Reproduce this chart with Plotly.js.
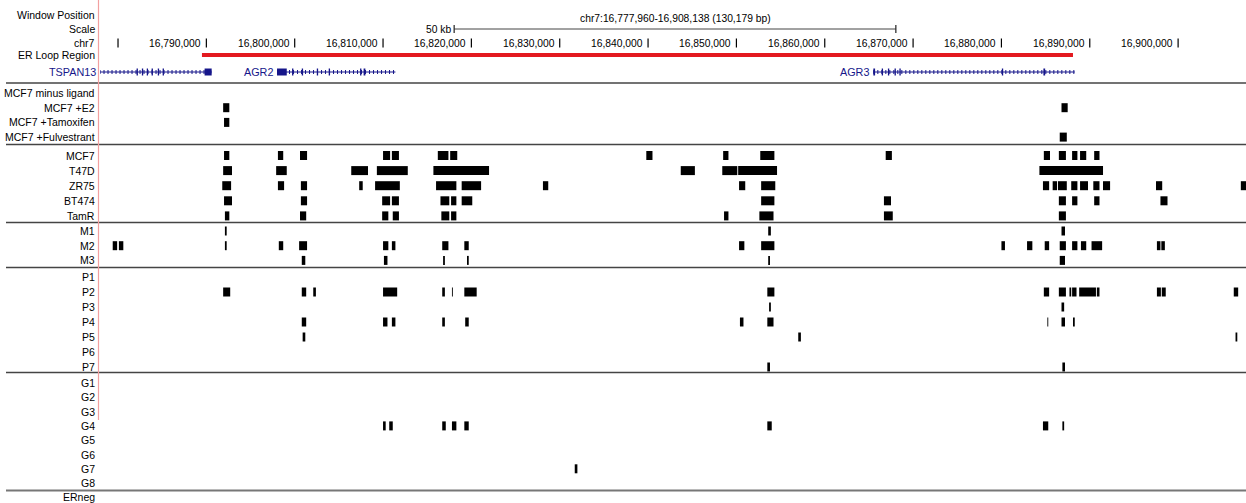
<!DOCTYPE html>
<html><head><meta charset="utf-8">
<script src="https://cdn.plot.ly/plotly-3.0.1.min.js"></script>
<style>html,body{margin:0;padding:0;background:#fff}#chart{width:1246px;height:503px}</style>
</head><body><div id="chart"></div>
<script>
// ---------------- DATA ----------------
const windowStart = 16777960, windowEnd = 16908138;
const windowText = "chr7:16,777,960-16,908,138 (130,179 bp)";
const scaleText = "50 kb";
const scaleLength = 50000;
const tickValues = [16780000,16790000,16800000,16810000,16820000,16830000,16840000,16850000,16860000,16870000,16880000,16890000,16900000];
const tickLabels = ["","16,790,000","16,800,000","16,810,000","16,820,000","16,830,000","16,840,000","16,850,000","16,860,000","16,870,000","16,880,000","16,890,000","16,900,000"];
const loopRegion = [16789500, 16888100];

const geneNames  = ["TSPAN13","AGR2","AGR3"];
const geneStarts = [16777000, 16798000, 16865500];
const geneEnds   = [16790600, 16811400, 16888300];
const exonsTSPAN13 = [[16782100,16782250],[16782700,16782850],[16783250,16783400],[16783800,16783950],[16784500,16784650],[16785050,16785200],[16789800,16790600]];
const exonsAGR2 = [[16798000,16799100],[16799700,16799850],[16800800,16800950],[16802500,16802650],[16803850,16804000],[16807400,16807550],[16807800,16808000]];
const exonsAGR3 = [[16865500,16865700],[16866450,16866600],[16867150,16867300],[16867900,16868050],[16868450,16868600],[16880050,16880200],[16884750,16884950]];

const headerLabels = ["Window Position","Scale","chr7","ER Loop Region"];
const groupLigand = ["MCF7 minus ligand","MCF7 +E2","MCF7 +Tamoxifen","MCF7 +Fulvestrant"];
const groupCells  = ["MCF7","T47D","ZR75","BT474","TamR"];
const groupM = ["M1","M2","M3"];
const groupP = ["P1","P2","P3","P4","P5","P6","P7"];
const groupG = ["G1","G2","G3","G4","G5","G6","G7","G8"];
const groupNeg = ["ERneg"];

const pkMinusLigand = [];
const pkE2 = [[16791900,16792600],[16886800,16887500]];
const pkTamoxifen = [[16792000,16792600]];
const pkFulvestrant = [[16886600,16887400]];
const pkMCF7 = [[16792000,16792600],[16798100,16798700],[16800600,16801400],[16810000,16810800],[16811000,16811800],[16816200,16817400],[16817600,16818400],[16839800,16840500],[16848500,16849100],[16852700,16854300],[16866900,16867600],[16884800,16885500],[16886500,16887300],[16888000,16888600],[16888900,16889600],[16890500,16891100]];
const pkT47D = [[16791900,16792900],[16797900,16799100],[16806400,16808300],[16809300,16812800],[16815700,16822000],[16843700,16845300],[16848400,16850100],[16850200,16854600],[16884300,16891500]];
const pkZR75 = [[16791800,16792800],[16798100,16798800],[16800700,16801400],[16807300,16807700],[16809100,16811900],[16816000,16818300],[16818900,16821100],[16828100,16828700],[16850300,16851000],[16852800,16854400],[16884700,16885400],[16885800,16886300],[16886400,16887400],[16887900,16888600],[16888900,16889800],[16890400,16891100],[16891500,16892300],[16897500,16898200],[16907100,16908000]];
const pkBT474 = [[16792000,16792900],[16800700,16801400],[16809900,16810800],[16811000,16811800],[16816500,16817500],[16817700,16818300],[16818900,16820100],[16852800,16854300],[16866700,16867500],[16886500,16887300],[16888000,16888600],[16890500,16891100],[16898000,16898800]];
const pkTamR = [[16792100,16792600],[16800600,16801300],[16809900,16810600],[16811100,16811800],[16816600,16817500],[16817700,16818300],[16848600,16849100],[16852600,16854200],[16866700,16867700],[16886500,16887300]];
const pkM1 = [[16792100,16792300],[16853600,16853900],[16886800,16887200]];
const pkM2 = [[16779400,16779900],[16780100,16780600],[16792100,16792300],[16798200,16798700],[16800500,16801400],[16810000,16810600],[16811000,16811400],[16816700,16817400],[16819200,16819700],[16850300,16850900],[16852800,16854300],[16880000,16880400],[16882900,16883500],[16884900,16885400],[16886600,16887300],[16888000,16888600],[16889000,16889600],[16890200,16891400],[16897600,16898000],[16898100,16898500]];
const pkM3 = [[16800800,16801200],[16810100,16810500],[16816800,16817000],[16819500,16819700],[16853600,16853800],[16886600,16887200]];
const pkP1 = [];
const pkP2 = [[16791900,16792700],[16800800,16801300],[16802100,16802400],[16810000,16811600],[16816700,16817000],[16817800,16817900],[16819200,16820600],[16853500,16854300],[16884800,16885400],[16886500,16887300],[16887700,16887900],[16888000,16888500],[16888800,16890700],[16890800,16891100],[16897600,16898050],[16898150,16898600],[16906300,16906800]];
const pkP3 = [[16853700,16853900],[16886800,16887100]];
const pkP4 = [[16800800,16801300],[16810000,16810500],[16811000,16811400],[16816700,16817000],[16819300,16819700],[16850400,16850800],[16853500,16854200],[16885200,16885300],[16886800,16887200],[16888100,16888300]];
const pkP5 = [[16800900,16801200],[16857000,16857300],[16906500,16906700]];
const pkP6 = [];
const pkP7 = [[16853500,16853800],[16886900,16887200]];
const pkG1 = [], pkG2 = [], pkG3 = [];
const pkG4 = [[16810000,16810300],[16810700,16811100],[16816700,16817100],[16817800,16818300],[16819200,16819700],[16853500,16854000],[16884700,16885300],[16886900,16887100]];
const pkG5 = [], pkG6 = [];
const pkG7 = [[16831700,16832000]];
const pkG8 = [];
const pkERneg = [];

// ---------------- LAYOUT / STYLE ----------------
const W = 1246, H = 503, LEFT = 100, DATA_RIGHT_PX = 1150; // window spans 1150 px, image crops at 1246
const xEnd = windowStart + (windowEnd - windowStart) * (W - LEFT) / DATA_RIGHT_PX;
const paperX = px => (px - LEFT) / (W - LEFT);
const FONT = "Liberation Sans, Arial, sans-serif";
const NAVY = "#16168a";

const peakMap = {
  "MCF7 minus ligand":pkMinusLigand,"MCF7 +E2":pkE2,"MCF7 +Tamoxifen":pkTamoxifen,"MCF7 +Fulvestrant":pkFulvestrant,
  "MCF7":pkMCF7,"T47D":pkT47D,"ZR75":pkZR75,"BT474":pkBT474,"TamR":pkTamR,
  "M1":pkM1,"M2":pkM2,"M3":pkM3,
  "P1":pkP1,"P2":pkP2,"P3":pkP3,"P4":pkP4,"P5":pkP5,"P6":pkP6,"P7":pkP7,
  "G1":pkG1,"G2":pkG2,"G3":pkG3,"G4":pkG4,"G5":pkG5,"G6":pkG6,"G7":pkG7,"G8":pkG8,"ERneg":pkERneg
};
const groups = [
  {rows:groupLigand, y0:93,   pitch:14.7},
  {rows:groupCells,  y0:155.5,pitch:15.1},
  {rows:groupM,      y0:231,  pitch:14.7},
  {rows:groupP,      y0:277,  pitch:15.0},
  {rows:groupG,      y0:383,  pitch:14.3},
  {rows:groupNeg,    y0:496.5,pitch:14.3}
];
const separatorsY = [83, 144.5, 222.5, 267.5, 372.5, 490.5];
const headerY = [15, 29, 43, 55];
const geneY = 72;
const blockH = 9;

const annotations = [];
const shapes = [];
const label = (text, y, opts={}) => annotations.push(Object.assign({
  text, xref:'paper', yref:'y', x:0, y, xanchor:'right', yanchor:'middle', xshift:-3,
  showarrow:false, font:{family:FONT, size:10.5, color:'#000'}
}, opts));

headerLabels.forEach((t,i)=>label(t, headerY[i]));

// peaks
const bx=[], bbase=[], by=[];
groups.forEach(g=>{
  g.rows.forEach((name,i)=>{
    const y = g.y0 + i*g.pitch;
    label(name, y);
    peakMap[name].forEach(p=>{ bbase.push(p[0]); bx.push(p[1]-p[0]); by.push(y); });
  });
});

// separators
separatorsY.forEach((y,i)=>shapes.push({type:'line', xref:'paper', yref:'y', x0:paperX(6), x1:1, y0:y, y1:y,
  line:{color: i===separatorsY.length-1 ? '#777' : '#444', width: i===separatorsY.length-1 ? 2 : 1.3}}));
// red boundary line
shapes.push({type:'line', xref:'paper', yref:'y', x0:paperX(98.5), x1:paperX(98.5), y0:0, y1:420, line:{color:'#f2a0a0', width:1.2}});

// chromosome ticks
tickValues.forEach((v,i)=>{
  shapes.push({type:'line', xref:'x', yref:'y', x0:v, x1:v, y0:38.5, y1:47.5, line:{color:'#000', width:1.2}});
  if (tickLabels[i]) annotations.push({text:tickLabels[i], xref:'x', yref:'y', x:v, y:43, xanchor:'right', yanchor:'middle', xshift:-3,
    showarrow:false, font:{family:FONT, size:10.3, color:'#000'}});
});

// window text and scale bar
const center = (windowStart + windowEnd) / 2;
annotations.push({text:windowText, xref:'x', yref:'y', x:center, y:18, xanchor:'center', yanchor:'middle', showarrow:false, font:{family:FONT, size:10.3, color:'#000'}});
const sb0 = center - scaleLength/2, sb1 = center + scaleLength/2;
shapes.push({type:'line', xref:'x', yref:'y', x0:sb0, x1:sb1, y0:29, y1:29, line:{color:'#444', width:1}});
shapes.push({type:'line', xref:'x', yref:'y', x0:sb0, x1:sb0, y0:25, y1:33, line:{color:'#222', width:1.2}});
shapes.push({type:'line', xref:'x', yref:'y', x0:sb1, x1:sb1, y0:25, y1:33, line:{color:'#222', width:1.2}});
annotations.push({text:scaleText, xref:'x', yref:'y', x:sb0, y:29, xanchor:'right', yanchor:'middle', xshift:-1, showarrow:false, font:{family:FONT, size:10.3, color:'#000'}});

const traces = [];
// ER loop region
traces.push({type:'scatter', mode:'lines', x:loopRegion, y:[55,55], line:{color:'#e3191f', width:4}, hoverinfo:'skip'});

// genes
const exonSets = [exonsTSPAN13, exonsAGR2, exonsAGR3];
const ex=[], eb=[], ey=[];
geneNames.forEach((g,i)=>{
  traces.push({type:'scatter', mode:'lines', x:[geneStarts[i], geneEnds[i]], y:[geneY,geneY], line:{color:NAVY, width:1}, hoverinfo:'skip'});
  traces.push({type:'scatter', mode:'lines', x:[geneStarts[i], geneEnds[i]], y:[geneY,geneY], line:{color:NAVY, width:4, dash:'1px,3px'}, hoverinfo:'skip'});
  exonSets[i].forEach(e=>{ eb.push(e[0]); ex.push(e[1]-e[0]); ey.push(geneY); });
  annotations.push({text:g, xref:'x', yref:'y', x:Math.max(geneStarts[i], windowStart), y:geneY, xanchor:'right', yanchor:'middle', xshift:-2,
    showarrow:false, font:{family:FONT, size:10.8, color:NAVY}});
});
traces.push({type:'bar', orientation:'h', x:ex, base:eb, y:ey, width:7, marker:{color:NAVY, line:{width:0}}, hoverinfo:'skip'});
traces.push({type:'bar', orientation:'h', x:bx, base:bbase, y:by, width:blockH, marker:{color:'#000', line:{width:0}}, hoverinfo:'skip'});

const layout = {
  width:W, height:H, margin:{l:LEFT, r:0, t:0, b:0, pad:0},
  paper_bgcolor:'#fff', plot_bgcolor:'#fff', showlegend:false, barmode:'overlay',
  xaxis:{range:[windowStart, xEnd], visible:false, fixedrange:true},
  yaxis:{range:[H, 0], visible:false, fixedrange:true},
  annotations, shapes, hovermode:false
};
Plotly.newPlot('chart', traces, layout, {staticPlot:true, displayModeBar:false});
</script></body></html>
